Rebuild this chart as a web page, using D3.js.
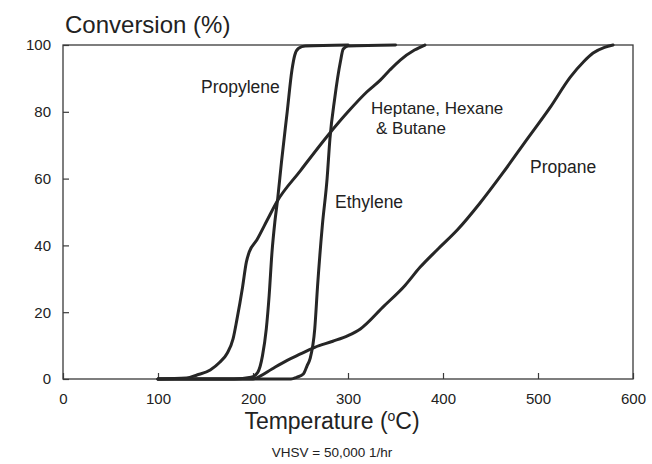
<!DOCTYPE html>
<html>
<head>
<meta charset="utf-8">
<script src="https://cdn.jsdelivr.net/npm/d3@7"></script>
<style>
  html, body { margin: 0; padding: 0; background: #fff; }
  svg { display: block; }
  text { font-family: "Liberation Sans", Arial, sans-serif; fill: #222; }
</style>
</head>
<body>
<svg id="chart" width="652" height="464"></svg>
<script>
// Light-off curves: conversion (%) versus catalyst inlet temperature (°C)
const propyleneTemp = [100, 180, 198, 205, 210, 214, 217, 220, 223, 226, 230, 236, 241, 244, 248, 255, 300];
const propyleneConv = [0, 0, 0.5, 2, 7, 15, 25, 38, 47, 54, 65, 80, 92.5, 97, 99, 99.7, 100];

const ethyleneTemp = [100, 240, 246, 253, 257, 260, 265, 268, 273, 278, 281, 286, 292, 295, 300, 350];
const ethyleneConv = [0, 0, 0.5, 1.5, 4, 6, 15, 28, 46, 60, 72, 84, 95, 98.8, 99.7, 100];

const alkaneTemp = [100, 130, 141, 155, 165, 173, 179, 183, 189, 193, 196, 204, 215, 225, 250, 279, 300, 320, 334, 344, 355, 370, 381];
const alkaneConv = [0, 0.3, 1.2, 2.7, 5, 7.8, 12, 17.7, 27.5, 35, 38, 41.6, 47.6, 53, 62.4, 73, 80, 86, 89.5, 92.5, 95.5, 98.5, 100];

const propaneTemp = [100, 200, 207, 220, 236, 250, 265, 284, 300, 313, 337, 360, 376, 395, 415, 439, 463, 488, 513, 534, 548, 558, 570, 579];
const propaneConv = [0, 0, 0.8, 3, 5.6, 7.5, 9.5, 11.3, 13, 15, 21.6, 28, 33.5, 39, 44.6, 52.7, 61.7, 71.6, 81.4, 90.4, 95, 97.6, 99.3, 100];

const xTicks = [0, 100, 200, 300, 400, 500, 600];
const yTicks = [0, 20, 40, 60, 80, 100];

const seriesNames = ["Propylene", "Ethylene", "Heptane, Hexane", "& Butane", "Propane"];

const svg = d3.select("#chart");
const x = d3.scaleLinear().domain([0, 600]).range([63, 633]);
const y = d3.scaleLinear().domain([0, 100]).range([379, 45]);

// Plot frame
svg.append("rect")
  .attr("x", x(0)).attr("y", y(100))
  .attr("width", x(600) - x(0)).attr("height", y(0) - y(100))
  .attr("fill", "none").attr("stroke", "#3a3a3a").attr("stroke-width", 1.3);

// Axes with inward ticks
const xAxis = svg.append("g")
  .attr("transform", `translate(0,${y(0)})`)
  .call(d3.axisBottom(x).tickValues(xTicks).tickSize(-6).tickPadding(14).tickFormat(d3.format("d")));
const yAxis = svg.append("g")
  .attr("transform", `translate(${x(0)},0)`)
  .call(d3.axisLeft(y).tickValues(yTicks).tickSize(-6).tickPadding(12).tickFormat(d3.format("d")));

[xAxis, yAxis].forEach(g => {
  g.select(".domain").remove();
  g.selectAll(".tick line").attr("stroke", "#3a3a3a").attr("stroke-width", 1.2);
  g.selectAll(".tick text")
    .style("font-family", '"Liberation Sans", Arial, sans-serif')
    .style("font-size", "15px")
    .attr("fill", "#222");
});

// Curves
const line = d3.line()
  .x(d => x(d[0]))
  .y(d => y(d[1]))
  .curve(d3.curveMonotoneX);

const series = [
  [propyleneTemp, propyleneConv],
  [ethyleneTemp, ethyleneConv],
  [alkaneTemp, alkaneConv],
  [propaneTemp, propaneConv]
];

svg.append("g").selectAll("path")
  .data(series)
  .join("path")
  .attr("d", s => line(d3.zip(s[0], s[1])))
  .attr("fill", "none")
  .attr("stroke", "#262626")
  .attr("stroke-width", 3)
  .attr("stroke-linejoin", "round")
  .attr("stroke-linecap", "round");

// Curve labels
const labelPos = [
  { x: 201, y: 93, size: 17.5 },
  { x: 335, y: 208, size: 17.5 },
  { x: 371, y: 114, size: 17 },
  { x: 376, y: 134, size: 17 },
  { x: 530, y: 173, size: 17.5 }
];
seriesNames.forEach((name, i) => {
  svg.append("text")
    .attr("x", labelPos[i].x).attr("y", labelPos[i].y)
    .style("font-size", labelPos[i].size + "px")
    .text(name);
});

// Axis titles and footnote
svg.append("text")
  .attr("x", 65).attr("y", 33)
  .style("font-size", "24px")
  .text("Conversion (%)");

const xt = svg.append("text")
  .attr("x", 332).attr("y", 429)
  .attr("text-anchor", "middle")
  .style("font-size", "23px");
xt.append("tspan").text("Temperature (");
xt.append("tspan").attr("dy", -8).style("font-size", "14px").text("o");
xt.append("tspan").attr("dy", 8).text("C)");

svg.append("text")
  .attr("x", 332).attr("y", 457)
  .attr("text-anchor", "middle")
  .style("font-size", "13.5px")
  .text("VHSV = 50,000 1/hr");
</script>
</body>
</html>
